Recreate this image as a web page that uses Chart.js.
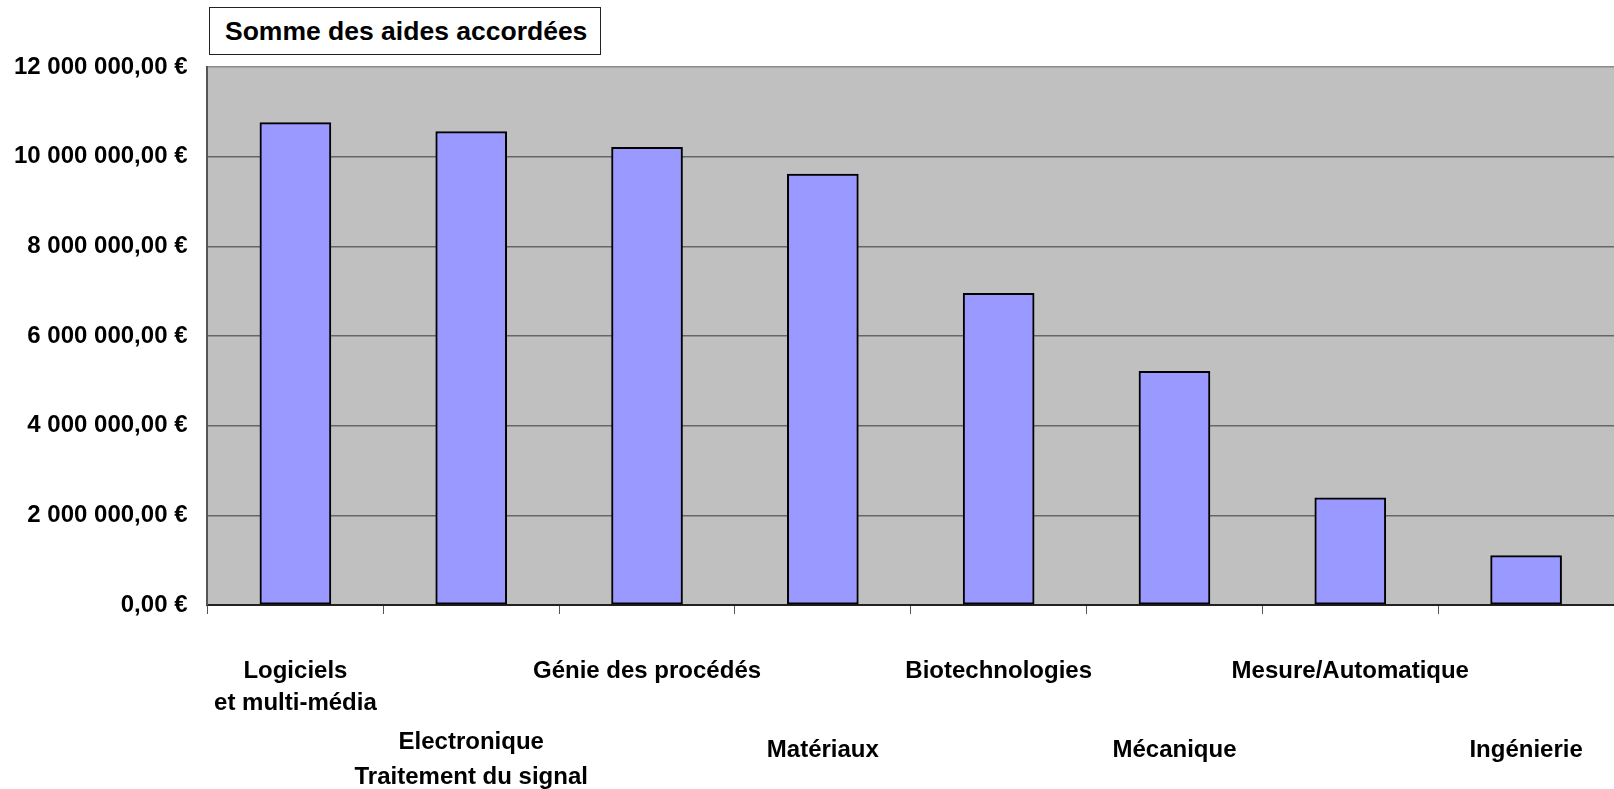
<!DOCTYPE html>
<html lang="fr">
<head>
    <meta charset="UTF-8">
    <title>Somme des aides accordées</title>
    <script src="https://cdn.jsdelivr.net/npm/chart.js"></script>
    <style>
        html, body {
            margin: 0;
            padding: 0;
            background: #fff;
            overflow: hidden;
        }

        .wrap {
            position: relative;
            width: 1614px;
            height: 789px;
        }

        .title-box {
            position: absolute;
            left: 209px;
            top: 7px;
            width: 375px;
            height: 46px;
            border: 1px solid #222;
            background: #fff;
            font-family: 'Liberation Sans', Arial, sans-serif;
            font-weight: bold;
            font-size: 26.5px;
            line-height: 46px;
            padding-left: 15px;
            color: #000;
        }
    </style>
</head>
<body>

<div class="wrap">
    <canvas id="chart"></canvas>
    <div class="title-box">Somme des aides accordées</div>
</div>

<script>
    // categories (one line per entry)
    const categories = [
        ['Logiciels', 'et multi-média'],
        ['Electronique', 'Traitement du signal'],
        ['Génie des procédés'],
        ['Matériaux'],
        ['Biotechnologies'],
        ['Mécanique'],
        ['Mesure/Automatique'],
        ['Ingénierie']
    ];

    // montants en euros
    const amounts = [10760000, 10560000, 10210000, 9610000, 6950000, 5210000, 2390000, 1100000];

    const yTickLabels = [
        '0,00 €',
        '2 000 000,00 €',
        '4 000 000,00 €',
        '6 000 000,00 €',
        '8 000 000,00 €',
        '10 000 000,00 €',
        '12 000 000,00 €'
    ];

    const FONT = "'Liberation Sans', Arial, sans-serif";

    // gray plot background
    const plotBg = {
        id: 'plotBg',
        beforeDraw(chart) {
            const a = chart.chartArea;
            const ctx = chart.ctx;
            ctx.save();
            ctx.fillStyle = '#c0c0c0';
            ctx.fillRect(a.left, a.top, a.right - a.left, a.bottom - a.top);
            ctx.restore();
        }
    };

    new Chart(document.getElementById('chart'), {
        type: 'bar',
        data: {
            labels: categories.map(c => c.join(' ')),
            datasets: [{
                data: amounts,
                backgroundColor: '#9999ff',
                borderColor: '#000',
                borderWidth: 2,
                borderSkipped: false,
                barThickness: 71
            }]
        },
        options: {
            responsive: true,
            maintainAspectRatio: false,
            animation: false,
            layout: {
                padding: { top: 67, right: 0, bottom: -6, left: 14 }
            },
            plugins: {
                legend: { display: false },
                tooltip: { enabled: false }
            },
            scales: {
                x: {
                    border: { display: true, color: '#222', width: 2 },
                    grid: {
                        drawOnChartArea: false,
                        drawTicks: true,
                        // long tick slot to push labels down, only 8px of it is visible
                        tickLength: 50,
                        tickBorderDash: [8, 100],
                        color: '#555',
                        lineWidth: 1
                    },
                    ticks: {
                        color: '#000',
                        padding: 0,
                        maxRotation: 0,
                        autoSkip: false,
                        // labels alternate between two rows
                        callback: (value, index) => index % 2 ? ['', ''].concat(categories[index]) : categories[index],
                        font: (ctx) => {
                            let lh = 32;
                            if (ctx.index % 2) {
                                lh = categories[ctx.index].length > 1 ? 35 : 38;
                            }
                            return { family: FONT, size: 24, weight: 'bold', lineHeight: lh + 'px' };
                        }
                    }
                },
                y: {
                    min: 0,
                    max: 12000000,
                    border: { display: true, color: '#555', width: 2 },
                    grid: {
                        drawTicks: true,
                        tickLength: 20,
                        tickColor: 'rgba(0,0,0,0)',
                        color: (ctx) => ctx.index === yTickLabels.length - 1 ? '#8a8a8a' : '#666',
                        lineWidth: 1.5
                    },
                    ticks: {
                        stepSize: 2000000,
                        padding: 0,
                        color: '#000',
                        font: { family: FONT, size: 24, weight: 'bold' },
                        callback: (value, index) => yTickLabels[index]
                    }
                }
            }
        },
        plugins: [plotBg]
    });
</script>

</body>
</html>
